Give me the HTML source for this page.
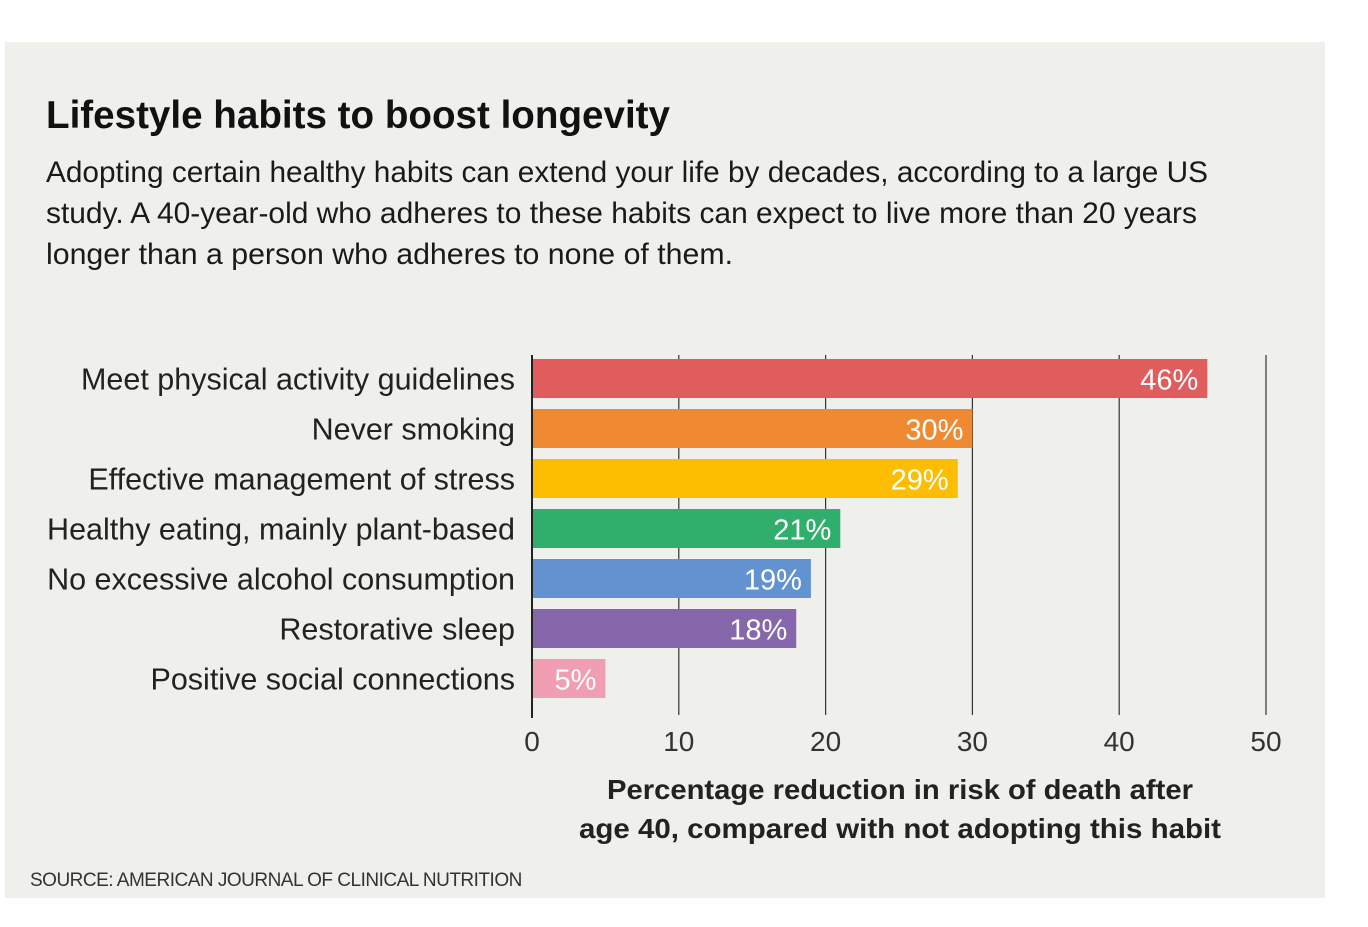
<!DOCTYPE html>
<html><head><meta charset="utf-8"><style>
body{margin:0;width:1368px;height:927px;background:#fff;overflow:hidden;font-family:"Liberation Sans",sans-serif}
#panel{position:absolute;left:5px;top:42px;width:1320px;height:856px;background:#efefeb}
</style></head><body>
<div id="panel"></div>
<svg id="chart" width="1368" height="927" style="position:absolute;left:0;top:0">
<text x="46" y="128" font-size="39" font-weight="bold" fill="#111" textLength="624" lengthAdjust="spacingAndGlyphs">Lifestyle habits to boost longevity</text>
<g font-size="30" fill="#1a1a1a">
<text x="46" y="182" textLength="1162" lengthAdjust="spacingAndGlyphs">Adopting certain healthy habits can extend your life by decades, according to a large US</text>
<text x="46" y="223" textLength="1151" lengthAdjust="spacingAndGlyphs">study. A 40-year-old who adheres to these habits can expect to live more than 20 years</text>
<text x="46" y="264" textLength="687" lengthAdjust="spacingAndGlyphs">longer than a person who adheres to none of them.</text>
</g>
<g id="grid"></g><g id="bars"></g><g id="labels"></g><g id="ticks"></g>
<g font-size="28" font-weight="bold" fill="#222" text-anchor="middle">
<text x="900" y="799" textLength="586" lengthAdjust="spacingAndGlyphs">Percentage reduction in risk of death after</text>
<text x="900" y="838" textLength="642" lengthAdjust="spacingAndGlyphs">age 40, compared with not adopting this habit</text>
</g>
<text x="30" y="886" font-size="19" fill="#333" letter-spacing="-0.5">SOURCE: AMERICAN JOURNAL OF CLINICAL NUTRITION</text>
</svg>
<script>
const categories=["Meet physical activity guidelines","Never smoking","Effective management of stress","Healthy eating, mainly plant-based","No excessive alcohol consumption","Restorative sleep","Positive social connections"];
const values=[46,30,29,21,19,18,5];
const colors=["#e05c5d","#ef8a33","#fdbd00","#2fae6c","#6293d0","#8667ab","#f19eb2"];
const tickValues=[0,10,20,30,40,50];
const NS="http://www.w3.org/2000/svg";
const x0=532,pxPer=14.68,yTop=359,pitch=50,bh=39;
const xs=v=>x0+v*pxPer;
const ys=i=>yTop+i*pitch;
function mk(tag,attrs,parent){const e=document.createElementNS(NS,tag);for(const k in attrs)e.setAttribute(k,attrs[k]);document.getElementById(parent).appendChild(e);return e;}
tickValues.forEach(t=>{
 const l=mk('line',{x1:xs(t),x2:xs(t),y1:355,y2:t===0?718:715,stroke:t===0?'#222':'#333','stroke-width':t===0?2:1.2},'grid');
 
 
 const tx=mk('text',{x:xs(t),y:751,'font-size':28,fill:'#333','text-anchor':'middle'},'ticks');
 tx.textContent=t;
 
 
});
values.forEach((v,i)=>{
 const r=mk('rect',{x:x0+1,y:ys(i),width:xs(v)-x0-1,height:bh,fill:colors[i]},'bars');
 
 
 const vl=mk('text',{x:xs(v)-9,y:ys(i)+bh/2+11,'font-size':29,fill:'#fff','text-anchor':'end'},'bars');
 vl.textContent=v+'%';
 
 
 const cl=mk('text',{x:515,y:ys(i)+bh/2+11,'font-size':30.5,fill:'#222','text-anchor':'end'},'labels');
 cl.textContent=categories[i];
 
 
});
</script>
</body></html>
